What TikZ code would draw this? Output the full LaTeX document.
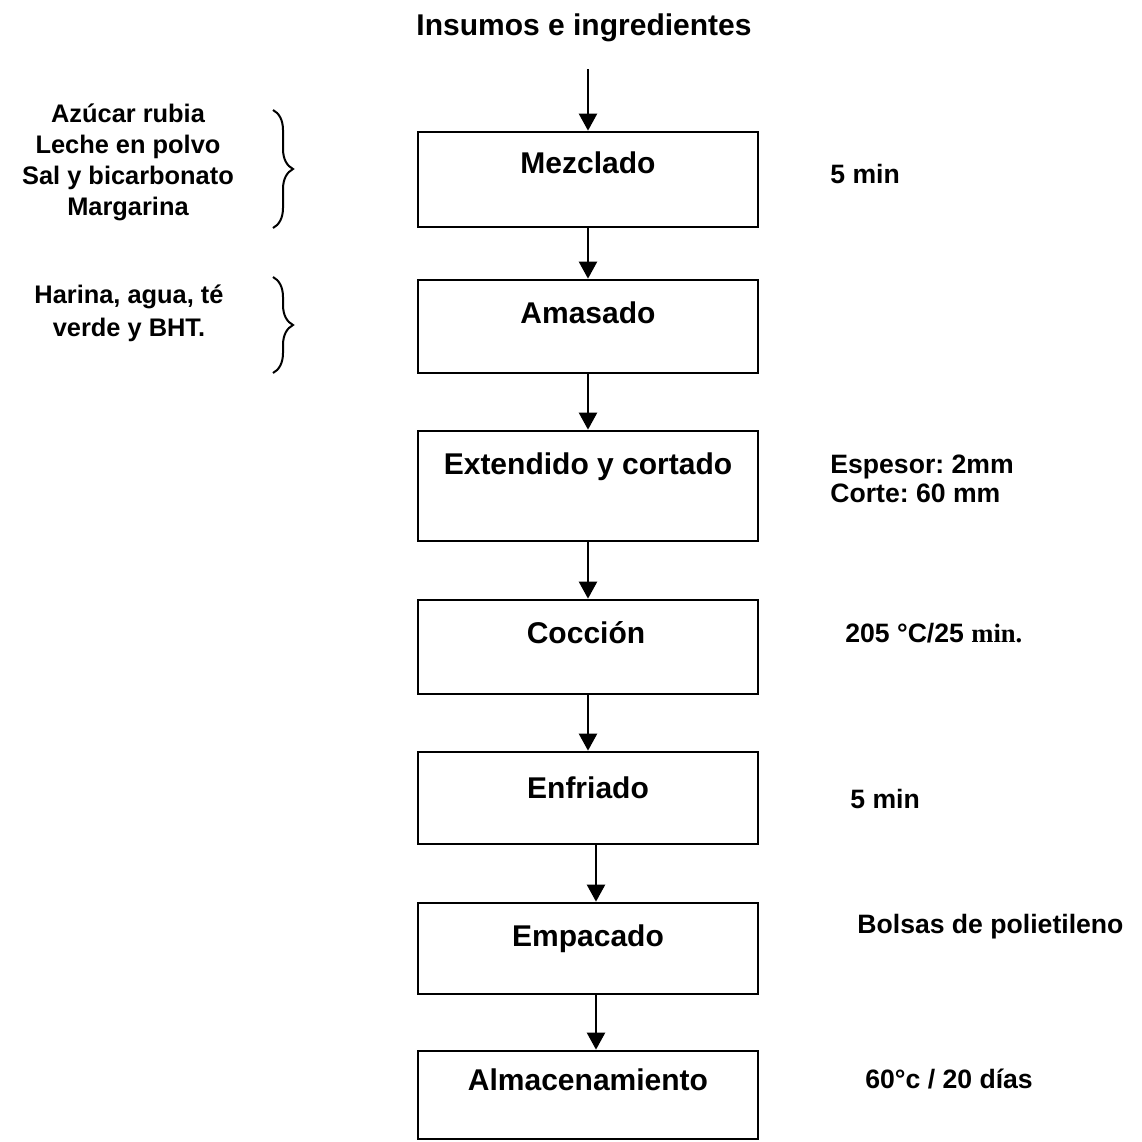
\documentclass[tikz,border=0pt]{standalone}
\usepackage{fontspec}
\setmainfont{Liberation Sans}
\newfontfamily\serifmin{Liberation Serif}
\usetikzlibrary{arrows.meta,decorations.pathreplacing}
\frenchspacing
\begin{document}
\begin{tikzpicture}[x=0.5pt,y=-0.5pt,
  procbox/.style={draw, line width=1.35pt, minimum width=170pt, minimum height=#1, inner sep=0pt},
  boxtxt/.style={font=\fontsize{15}{18}\selectfont\bfseries, inner sep=0pt, anchor=base},
  sidetxt/.style={font=\fontsize{13.3}{16}\selectfont\bfseries, inner sep=0pt, anchor=base west},
  lefttxt/.style={font=\fontsize{12.7}{15.5}\selectfont\bfseries, align=center, inner sep=0pt},
  arr/.style={line width=1.15pt, -{Triangle[length=8.5pt,width=9pt]}},
  brc/.style={line width=1pt, decorate, decoration={brace, amplitude=10pt}}
]
\useasboundingbox (0,0) rectangle (1142,1142);

% title
\node[boxtxt] (title) at (584,35) {Insumos e ingredientes};
\coordinate (s0) at (588,69);

% process boxes
\node[procbox=47.5pt] (b1) at (588,179.5) {};
\node[procbox=46.5pt] (b2) at (588,326.5) {};
\node[procbox=55pt]   (b3) at (588,486) {};
\node[procbox=47pt]   (b4) at (588,647) {};
\node[procbox=46pt]   (b5) at (588,798) {};
\node[procbox=45.5pt] (b6) at (588,948.5) {};
\node[procbox=44pt]   (b7) at (588,1095) {};

% box texts
\node[boxtxt] (t1) at (588,173) {Mezclado};
\node[boxtxt] (t2) at (588,323) {Amasado};
\node[boxtxt] (t3) at (588,474) {Extendido y cortado};
\node[boxtxt] (t4) at (586,643) {Cocción};
\node[boxtxt] (t5) at (588,798) {Enfriado};
\node[boxtxt] (t6) at (588,946) {Empacado};
\node[boxtxt] (t7) at (588,1090) {Almacenamiento};

% arrows
\draw[arr] (s0) -- (b1.north);
\draw[arr] (b1.south) -- (b2.north);
\draw[arr] (b2.south) -- (b3.north);
\draw[arr] (b3.south) -- (b4.north);
\draw[arr] (b4.south) -- (b5.north);
\draw[arr] ([xshift=4pt]b5.south) -- ([xshift=4pt]b6.north);
\draw[arr] ([xshift=4pt]b6.south) -- ([xshift=4pt]b7.north);

% right-hand notes
\node[sidetxt] (r1) at (830,183) {5 min};
\node[sidetxt] (r3a) at (830,473) {Espesor: 2mm};
\node[sidetxt] (r3b) at (830,502) {Corte: 60 mm};
\node[sidetxt] (r4) at (845,642) {205 °C/25 {\serifmin min.}};
\node[sidetxt] (r5) at (850,808) {5 min};
\node[sidetxt] (r6) at (857,933) {Bolsas de polietileno};
\node[sidetxt] (r7) at (865,1088) {60°c / 20 días};

% left-hand inputs
\node[lefttxt] (l1) at (128,162) {Azúcar rubia\\Leche en polvo\\Sal y bicarbonato\\Margarina};
\node[lefttxt, font=\fontsize{12.7}{16.5}\selectfont\bfseries] (l2) at (129,313) {Harina, agua, té\\verde y BHT.};

% braces
\coordinate (br1a) at (273,110);
\coordinate (br1b) at (273,228);
\coordinate (br2a) at (273,277);
\coordinate (br2b) at (273,373);
\draw[brc] (br1a) -- (br1b);
\draw[brc] (br2a) -- (br2b);
\end{tikzpicture}
\end{document}
